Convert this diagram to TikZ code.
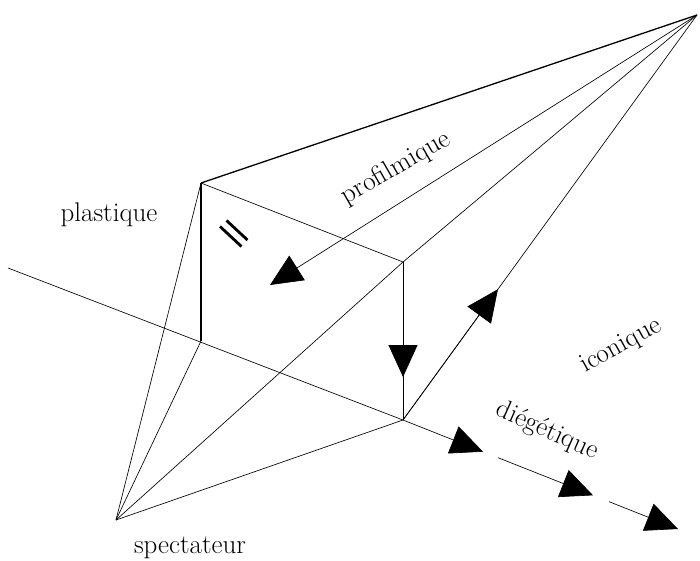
\documentclass[tikz,border=0pt]{standalone}
\usetikzlibrary{arrows.meta,calc}
\begin{document}
\begin{tikzpicture}[x=1pt,y=-1pt,
  thinline/.style={line width=0.65pt},
  thickline/.style={line width=1.3pt},
  head/.style={-{Triangle[length=32pt,width=29pt]}},
  lbl/.style={font=\fontsize{27}{32}\selectfont, inner sep=0pt}]
\useasboundingbox (0,0) rectangle (700,560);
% main points
\coordinate (A) at (697,15);
\coordinate (B) at (201,183);
\coordinate (C) at (403,262);
\coordinate (D) at (403,420);
\coordinate (E) at (201,341);
\coordinate (S) at (116,520);
\coordinate (L) at (8,268);
\coordinate (P) at (270,285);
\coordinate (T3) at (678,529);
% arrow tips on lines
\coordinate (tcd) at ($(C)!0.728!(D)$);
\coordinate (tda) at ($(D)!0.323!(A)$);
\coordinate (t1) at ($(D)!0.291!(T3)$);
\coordinate (s2) at ($(D)!0.345!(T3)$);
\coordinate (t2) at ($(D)!0.691!(T3)$);
\coordinate (s3) at ($(D)!0.749!(T3)$);
% parallel mark
\coordinate (m1a) at (226.5,220.5);
\coordinate (m1b) at (247.5,240);
\coordinate (m2a) at (220,226.5);
\coordinate (m2b) at (241.5,246.5);

% thick lines
\draw[thickline] (B) -- (A);
\draw[line width=1.5pt] (B) -- (E);
% thin lines
\draw[thinline] (B) -- (C);
\draw[thinline] (L) -- (D);
\draw[thinline] (S) -- (B);
\draw[thinline] (S) -- (E);
\draw[thinline] (S) -- (C);
\draw[thinline] (S) -- (D);
\draw[thinline] (C) -- (A);
\draw[thinline] (D) -- (A);
\draw[line width=0.9pt] (C) -- (D);
% arrows
\draw[thinline,head] (A) -- (P);
\draw[line width=0.9pt,head] (C) -- (tcd);
\draw[thinline,head] (D) -- (tda);
\draw[thinline,head] (D) -- (t1);
\draw[thinline,head] (s2) -- (t2);
\draw[thinline,head] (s3) -- (T3);
% parallel mark
\draw[line width=2.8pt] (m1a) -- (m1b);
\draw[line width=2.8pt] (m2a) -- (m2b);
% labels
\node[lbl] (plastique) at (109,215) {plastique};
\node[lbl] (spectateur) at (190,548) {spectateur};
\node[lbl,rotate=30] (profilmique) at (396,168) {profilmique};
\node[lbl,rotate=29] (iconique) at (621,346) {iconique};
\node[lbl,rotate=-24] (diegetique) at (547,431) {diégétique};
\end{tikzpicture}
\end{document}
